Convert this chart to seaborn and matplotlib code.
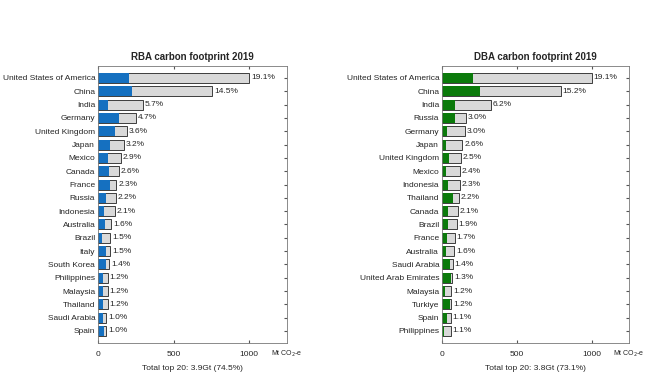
import matplotlib
matplotlib.use("Agg")
import matplotlib.pyplot as plt
import seaborn as sns
import pandas as pd

# RBA panel data (Mt CO2-e)
rba_countries = ["United States of America", "China", "India", "Germany", "United Kingdom",
                 "Japan", "Mexico", "Canada", "France", "Russia", "Indonesia", "Australia",
                 "Brazil", "Italy", "South Korea", "Philippines", "Malaysia", "Thailand",
                 "Saudi Arabia", "Spain"]
rba_total = [1000, 757, 298, 250, 189, 170, 153, 138, 122, 117, 110, 88,
             80, 80, 74, 65, 65, 65, 56, 55]
rba_part = [202, 224, 63, 139, 109, 79, 64, 73, 79, 53, 38, 44,
            29, 55, 56, 30, 36, 36, 36, 40]
rba_pct = [19.1, 14.5, 5.7, 4.7, 3.6, 3.2, 2.9, 2.6, 2.3, 2.2, 2.1, 1.6,
           1.5, 1.5, 1.4, 1.2, 1.2, 1.2, 1.0, 1.0]

# DBA panel data (Mt CO2-e)
dba_countries = ["United States of America", "China", "India", "Russia", "Germany", "Japan",
                 "United Kingdom", "Mexico", "Indonesia", "Thailand", "Canada", "Brazil",
                 "France", "Australia", "Saudi Arabia", "United Arab Emirates", "Malaysia",
                 "Turkiye", "Spain", "Philippines"]
dba_total = [1002, 793, 325, 158, 155, 137, 125, 121, 117, 111, 108, 99,
             87, 82, 73, 68, 63, 61, 58, 58]
dba_part = [204, 254, 85, 85, 33, 29, 47, 24, 40, 76, 38, 38,
            33, 24, 51, 60, 22, 51, 35, 13]
dba_pct = [19.1, 15.2, 6.2, 3.0, 3.0, 2.6, 2.5, 2.4, 2.3, 2.2, 2.1, 1.9,
           1.7, 1.6, 1.4, 1.3, 1.2, 1.2, 1.1, 1.1]

sns.set_style("ticks")
plt.rcParams["font.family"] = ["Liberation Sans", "DejaVu Sans"]

fig = plt.figure(figsize=(6.5, 3.89), dpi=100)
ax1 = fig.add_axes([0.1508, 0.1183, 0.2908, 0.712])
ax2 = fig.add_axes([0.680, 0.1183, 0.2877, 0.712])


def panel(ax, countries, total, part, pct, color, title, footer):
    df = pd.DataFrame({"country": countries, "total": total, "part": part, "pct": pct})
    sns.barplot(data=df, x="total", y="country", color="#d9d9d9", saturation=1,
                edgecolor="#222222", linewidth=0.6, width=0.75, ax=ax)
    sns.barplot(data=df, x="part", y="country", color=color, saturation=1,
                linewidth=0, width=0.75, ax=ax)
    for i, (t, p) in enumerate(zip(total, pct)):
        ax.text(t + 12, i, f"{p:.1f}%", va="center", ha="left", fontsize=6)
    ax.set_xlim(0, 1250)
    ax.set_ylim(19.9, -0.9)
    ax.set_xticks([0, 500, 1000])
    ax.set_xlabel("")
    ax.set_ylabel("")
    ax.set_title(title, fontsize=7, fontweight="bold", pad=4)
    ax.tick_params(axis="x", labelsize=6, direction="in", length=2, top=True,
                   color="#555555", pad=6)
    ax.tick_params(axis="y", labelsize=6, left=False, right=True, direction="in",
                   length=2, color="#555555", pad=2)
    for s in ax.spines.values():
        s.set_visible(True)
        s.set_linewidth(0.6)
        s.set_color("#777777")
    ax.text(1.0, -0.04, "Mt CO$_2$-e", transform=ax.transAxes, fontsize=5,
            ha="center", va="center")
    ax.text(0.5, -0.08, footer, transform=ax.transAxes, fontsize=6,
            ha="center", va="top")


panel(ax1, rba_countries, rba_total, rba_part, rba_pct, "#1570c0",
      "RBA carbon footprint 2019", "Total top 20: 3.9Gt (74.5%)")
panel(ax2, dba_countries, dba_total, dba_part, dba_pct, "#0b7a0b",
      "DBA carbon footprint 2019", "Total top 20: 3.8Gt (73.1%)")

fig.savefig("out.png", dpi=100)
